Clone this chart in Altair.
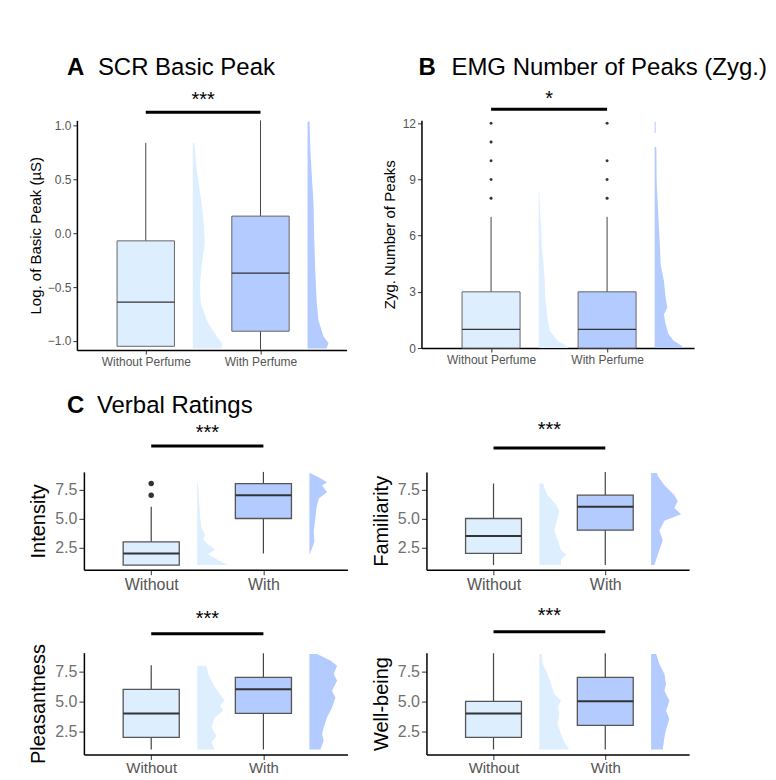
import altair as alt
import pandas as pd

GROUPS = ["Without", "With"]
FILL = ["#ddeeff", "#b3cbff"]
AB_XLABELS = ["Without Perfume", "With Perfume"]
C_XLABELS = ["Without", "With"]

# ---- Panel A : SCR Basic Peak ----
A_YTICKS = [-1.0, -0.5, 0.0, 0.5, 1.0]
A_Q1 = [-1.05, -0.91]
A_MED = [-0.64, -0.37]
A_Q3 = [-0.07, 0.16]
A_LO = [-1.05, -1.08]
A_HI = [0.84, 1.05]
A_OUT = [[], []]
A_DY = [[0.84, 0.58, 0.27, 0.09, -0.10, -0.28, -0.50, -0.65, -0.81, -0.96, -1.02, -1.07],
        [1.04, 0.80, 0.58, 0.27, -0.04, -0.35, -0.65, -0.81, -0.96, -1.02, -1.07]]
A_DD = [[1.5, 4, 9, 11, 12, 9, 7, 8, 14, 24, 29, 29],
        [2, 2.7, 4, 6, 6.7, 7.7, 9.3, 11, 16, 21, 19]]

# ---- Panel B : EMG Number of Peaks ----
B_YTICKS = [0, 3, 6, 9, 12]
B_Q1 = [0, 0]
B_MED = [1, 1]
B_Q3 = [3, 3]
B_LO = [0, 0]
B_HI = [7, 7]
B_OUT = [[8, 9, 10, 11, 12], [8, 9, 10, 12]]
B_DY = [[8.35, 7.1, 6.2, 5.35, 4.46, 3.57, 2.7, 1.8, 0.92, 0.39, 0.12, 0.0],
        [12.07, 11.5, 11.45, 10.75, 10.7, 8.9, 7.5, 5.35, 4.46, 3.57, 2.7, 2.16, 1.8, 1.27, 0.74, 0.39, 0.12, 0.0]]
B_DD = [[0.5, 1.7, 2.7, 3.3, 5, 6, 6.7, 8.3, 11, 19, 27.7, 30],
        [1, 1, 0, 0, 1.7, 2, 3.3, 5.3, 6, 9.3, 11, 12.7, 9.3, 11, 14, 19, 27, 28]]

# ---- Panel C : Verbal ratings ----
C_YTICKS = [2.5, 5.0, 7.5]
I_Q1, I_MED, I_Q3, I_LO, I_HI = [1, 5], [2, 7], [3, 8], [1, 2], [6, 9]
I_OUT = [[7, 8], []]
I_DY = [[8.1, 6.7, 5.3, 4.17, 3.6, 3.2, 2.75, 2.33, 1.9, 1.5, 1.06, 1.0],
        [8.9, 8.54, 8.12, 7.84, 7.27, 6.71, 5.86, 5.0, 3.88, 3.03, 2.47, 1.97]]
I_DD = [[0.7, 1.7, 2.7, 4.3, 7.7, 6, 11, 17.7, 11, 19.3, 29.3, 29.3],
        [0.5, 9.3, 17.7, 12.7, 17.7, 9.3, 7, 6, 4.3, 5, 2.7, 0.5]]

F_Q1, F_MED, F_Q3, F_LO, F_HI = [2, 4], [3.5, 6], [5, 7], [1, 1], [8, 9]
F_OUT = [[], []]
F_DY = [[8.0, 7.6, 7.0, 6.2, 5.64, 5.08, 4.5, 3.97, 3.14, 2.3, 1.9, 1.47, 1.0],
        [8.9, 8.64, 7.86, 7.0, 6.47, 5.9, 5.36, 4.8, 3.97, 3.14, 2.3, 1.47, 1.0]]
F_DD = [[4, 5, 8.3, 16.7, 20, 18.3, 16.7, 15, 18.3, 21.7, 26.7, 21.7, 21.7],
        [6, 6.7, 13.3, 23.3, 26.7, 23.3, 30, 13.3, 8.3, 11.7, 8.3, 5, 3.3]]

P_Q1, P_MED, P_Q3, P_LO, P_HI = [2, 4], [4, 6], [6, 7], [1, 1], [8, 9]
P_OUT = [[], []]
P_DY = [[7.97, 7.28, 6.44, 5.6, 5.06, 4.64, 4.22, 3.67, 2.83, 2.14, 1.58, 1.0],
        [8.94, 8.39, 7.97, 7.28, 6.72, 5.89, 5.33, 4.5, 3.67, 2.83, 2.28, 1.72, 1.0]]
P_DD = [[9.3, 11, 16, 22.7, 27.7, 22.7, 26, 17.7, 14.3, 19.3, 14.3, 17.7],
        [7.7, 21, 27.7, 24.3, 27.7, 22.7, 26, 22.7, 17.7, 14.3, 12.7, 14.3, 11]]

W_Q1, W_MED, W_Q3, W_LO, W_HI = [2, 3], [4, 5], [5, 7], [1, 1], [9, 9]
W_OUT = [[], []]
W_DY = [[8.94, 8.1, 7.28, 6.44, 5.6, 5.06, 4.5, 3.94, 3.1, 2.28, 1.58, 1.0],
        [8.94, 8.1, 7.28, 6.44, 5.89, 5.06, 4.22, 3.53, 2.69, 2.0, 1.0]]
W_DD = [[2.3, 3.3, 8.3, 11.7, 15, 21.7, 18.3, 20, 18.3, 21.7, 25, 30],
        [5, 8.3, 13.3, 15, 13.3, 18.3, 15, 18.3, 15, 13.3, 11.7]]

XDOM = [0.4, 2.75]
HALF = 0.25
GAP = 0.41
FONT = "Liberation Sans"


def panel(s):
    ppu = s["w"] / (XDOM[1] - XDOM[0])
    xs = alt.Scale(domain=XDOM, nice=False, zero=False)
    ys = alt.Scale(domain=s["ydom"], nice=False, zero=False)
    xl = s["xlabels"]
    xaxis = alt.Axis(values=[1, 2], labelExpr=f"datum.value == 1 ? '{xl[0]}' : '{xl[1]}'",
                     title=None, grid=False, domainColor="#000", domainWidth=1.5,
                     tickColor="#333", tickSize=s["tick"], labelPadding=s.get("xlpad", 2),
                     labelFontSize=s["xlfs"], labelColor=s["xlc"], labelFont=FONT)
    yaxis = alt.Axis(values=s["yticks"], format=s["yfmt"], title=s["ytitle"],
                     titleFontSize=s["ytfs"], titleFontWeight="normal", titleColor="#000",
                     titlePadding=s["ytpad"], titleFont=FONT, grid=False,
                     domainColor="#000", domainWidth=1.5, tickColor="#333",
                     tickSize=s["tick"], labelPadding=2, labelFontSize=s["ylfs"],
                     labelColor=s["ylc"], labelFont=FONT)

    def X(f):
        return alt.X(f"{f}:Q", scale=xs, axis=xaxis)

    def Y(f):
        return alt.Y(f"{f}:Q", scale=ys, axis=yaxis)

    color = alt.Color("grp:N", scale=alt.Scale(domain=GROUPS, range=FILL), legend=None)

    box = pd.DataFrame({"grp": GROUPS, "xc": [1, 2], "q1": s["q1"], "med": s["med"],
                        "q3": s["q3"], "lo": s["lo"], "hi": s["hi"]})
    box["xl"] = box["xc"] - HALF
    box["xr"] = box["xc"] + HALF

    layers = []
    # half-violin densities to the right of each box
    for gi, g in enumerate(GROUPS):
        x0 = gi + 1 + GAP
        pairs = sorted(zip(s["dy"][gi], s["dd"][gi]))
        dens = pd.DataFrame({"y": [p[0] for p in pairs],
                             "x0": [x0] * len(pairs),
                             "x1": [x0 + p[1] / ppu for p in pairs]})
        layers.append(alt.Chart(dens).mark_area(
            orient="horizontal", fill=FILL[gi], opacity=1).encode(
            y=Y("y"), x=X("x1"), x2="x0"))

    orows = []
    for gi, g in enumerate(GROUPS):
        for v in s["out"][gi]:
            orows.append({"grp": g, "xc": gi + 1, "v": v})

    layers += [
        alt.Chart(box).mark_rule(color="#444", strokeWidth=s["ww"]).encode(
            x=X("xc"), y=Y("lo"), y2="hi"),
        alt.Chart(box).mark_rect(stroke=s["bstroke"], strokeWidth=s["bw"]).encode(
            x=X("xl"), x2="xr", y=Y("q1"), y2="q3", color=color),
        alt.Chart(box).mark_rule(color="#333", strokeWidth=s["mw"]).encode(
            x=X("xl"), x2="xr", y=Y("med")),
    ]
    if orows:
        layers.append(alt.Chart(pd.DataFrame(orows)).mark_circle(
            color="#333", opacity=1, size=s["osize"]).encode(x=X("xc"), y=Y("v")))

    layers.append(alt.Chart(pd.DataFrame({"a": [1], "b": [2]})).mark_rule(
        color="#000", strokeWidth=3).encode(x=X("a"), x2="b", y=alt.value(s["bar_y"])))
    layers.append(alt.Chart(pd.DataFrame({"t": [s["sig"]], "m": [1.5]})).mark_text(
        fontSize=20, font=FONT, color="#000", baseline="alphabetic").encode(
        x=X("m"), text="t:N", y=alt.value(s["sig_y"])))

    for (txt, tx, ty, bold) in s.get("titles", []):
        layers.append(alt.Chart(pd.DataFrame({"t": [txt]})).mark_text(
            fontSize=24, font=FONT, color="#000", align="left", baseline="alphabetic",
            fontWeight="bold" if bold else "normal").encode(
            x=alt.value(tx), y=alt.value(ty), text="t:N"))

    # invisible layout anchors (fix the outer extent of each row)
    for (mx, my) in s.get("anchors", []):
        layers.append(alt.Chart(pd.DataFrame({"a": [0]})).mark_rule(
            opacity=0, strokeWidth=1).encode(
            x=alt.value(mx), y=alt.value(my), y2=alt.value(my + 1)))

    return alt.layer(*layers).properties(width=s["w"], height=s["h"])


AB_STYLE = dict(xlabels=AB_XLABELS, tick=4, xlfs=12, xlc="#555555", ylfs=12, ylc="#555555",
                ytfs=15, ww=1, bw=1, bstroke="#666", mw=1.3, osize=9)
C_STYLE = dict(xlabels=C_XLABELS, tick=5, xlfs=16, xlc="#555555", ylfs=16, ylc="#707070",
               ytfs=20, ytpad=6, ww=1.2, bw=1.3, bstroke="#555", mw=2, osize=30,
               yticks=C_YTICKS, yfmt=".1f")

pA = panel(dict(AB_STYLE, w=270, h=230, ydom=[-1.085, 1.05], yticks=A_YTICKS, yfmt=".1f",
                ytitle="Log. of Basic Peak (µS)", ytpad=4,
                q1=A_Q1, med=A_MED, q3=A_Q3, lo=A_LO, hi=A_HI, out=A_OUT, dy=A_DY, dd=A_DD,
                sig="***", bar_y=-8, sig_y=-14,
                titles=[("A", -10, -45, True), ("SCR Basic Peak", 21, -45, False)],
                anchors=[(-69, -112), (-69, 261)]))
pB = panel(dict(AB_STYLE, w=273, h=228, ydom=[0, 12.15], yticks=B_YTICKS, yfmt="d",
                ytitle="Zyg. Number of Peaks", ytpad=5,
                q1=B_Q1, med=B_MED, q3=B_Q3, lo=B_LO, hi=B_HI, out=B_OUT, dy=B_DY, dd=B_DD,
                sig="*", bar_y=-11, sig_y=-15,
                titles=[("B", -3, -45, True), ("EMG Number of Peaks (Zyg.)", 30, -45, False)]))
pI = panel(dict(C_STYLE, w=264, h=98, ydom=[0.6, 9.0], ytitle="Intensity",
                q1=I_Q1, med=I_MED, q3=I_Q3, lo=I_LO, hi=I_HI, out=I_OUT, dy=I_DY, dd=I_DD,
                sig="***", bar_y=-26, sig_y=-33,
                titles=[("C", -17, -59, True), ("Verbal Ratings", 13, -59, False)],
                anchors=[(0, -90), (0, 127)]))
pF = panel(dict(C_STYLE, w=263, h=98, ydom=[0.6, 9.0], ytitle="Familiarity",
                q1=F_Q1, med=F_MED, q3=F_Q3, lo=F_LO, hi=F_HI, out=F_OUT, dy=F_DY, dd=F_DD,
                sig="***", bar_y=-24, sig_y=-36))
pP = panel(dict(C_STYLE, w=264, h=102, ydom=[0.58, 9.05], ytitle="Pleasantness",
                q1=P_Q1, med=P_MED, q3=P_Q3, lo=P_LO, hi=P_HI, out=P_OUT, dy=P_DY, dd=P_DD,
                sig="***", bar_y=-19, sig_y=-28, xlfs=15, xlpad=1,
                anchors=[(0, -53)]))
pW = panel(dict(C_STYLE, w=263, h=102, ydom=[0.58, 9.05], ytitle="Well-being",
                q1=W_Q1, med=W_MED, q3=W_Q3, lo=W_LO, hi=W_HI, out=W_OUT, dy=W_DY, dd=W_DD,
                sig="***", bar_y=-21, sig_y=-31, xlfs=15, xlpad=1))


def spacer(w):
    return alt.Chart(pd.DataFrame({"a": [0]})).mark_rule(opacity=0).encode(
        x=alt.value(0), y=alt.value(0), y2=alt.value(1)).properties(width=w, height=10)


row1 = alt.hconcat(pA, pB, spacing=75, bounds="flush")
row2 = alt.hconcat(spacer(7), pI, spacer(79), pF, spacing=0, bounds="flush")
row3 = alt.hconcat(spacer(7), pP, spacer(79), pW, spacing=0, bounds="flush")

chart = alt.vconcat(row1, row2, row3, spacing=0).properties(
    padding={"left": 0, "top": 0, "right": 0, "bottom": 0}
).configure(font=FONT).configure_view(stroke=None)

chart.save("out.html", embed_options={"renderer": "svg", "actions": False})
